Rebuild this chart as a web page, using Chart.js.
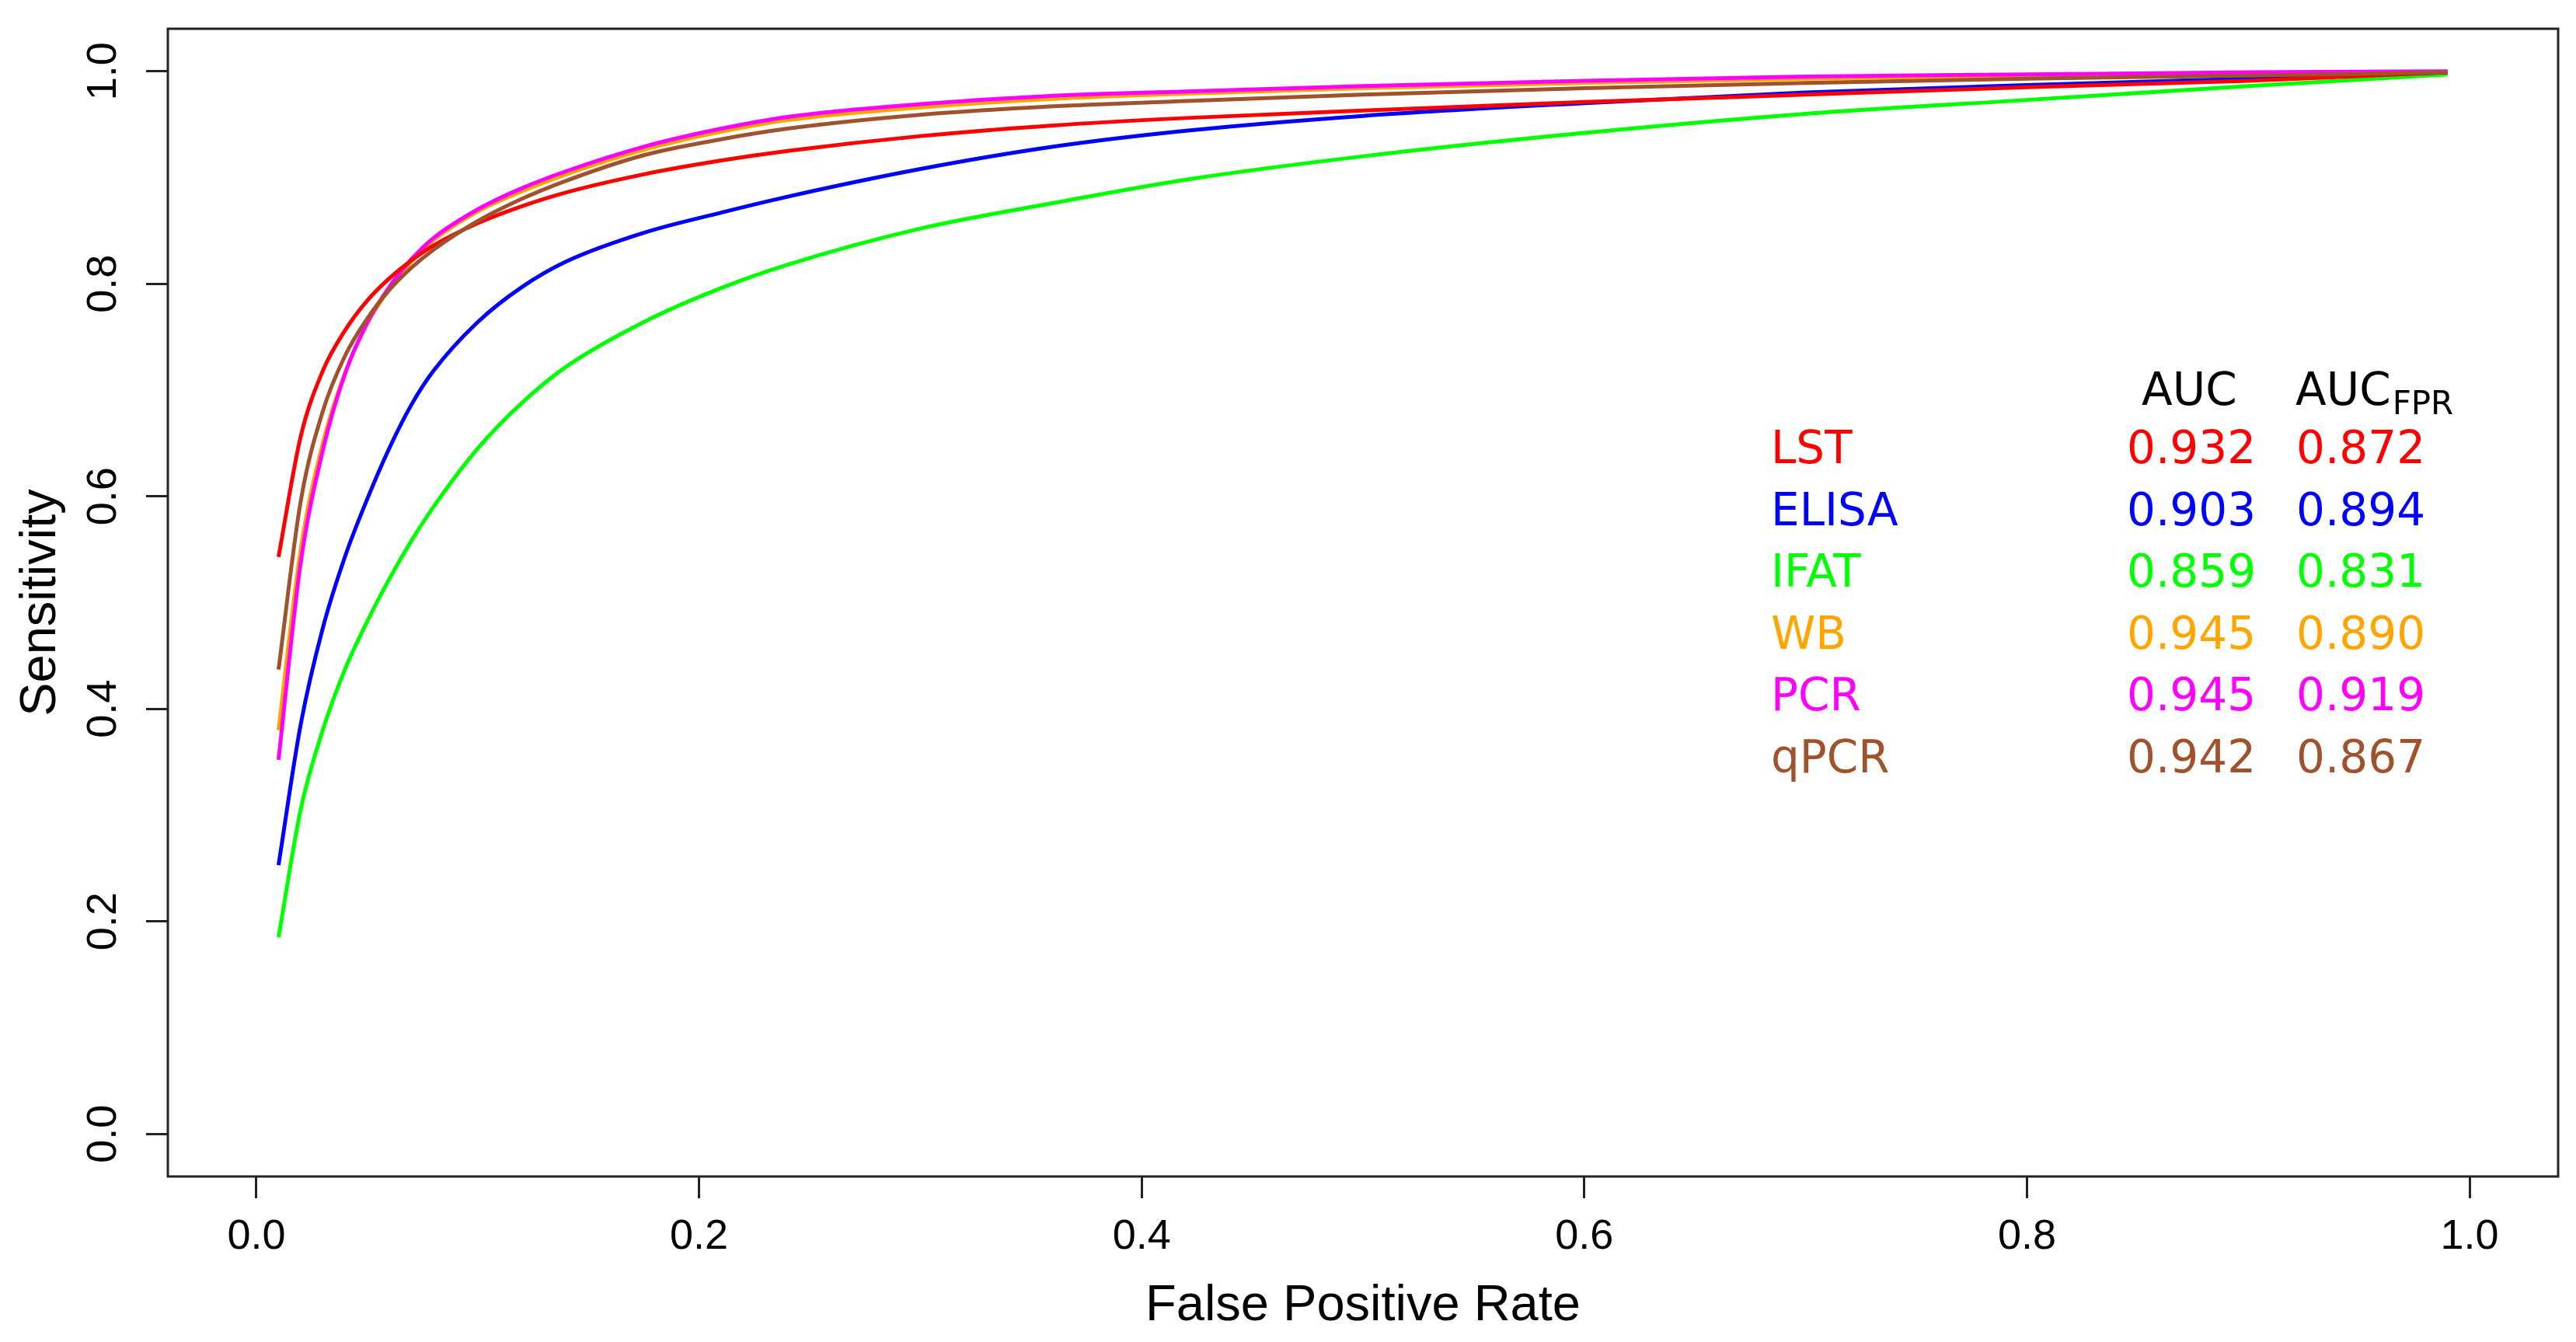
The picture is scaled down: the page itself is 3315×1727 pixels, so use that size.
<!DOCTYPE html>
<html>
<head>
<meta charset="utf-8">
<script src="https://cdn.jsdelivr.net/npm/chart.js@4.4.1/dist/chart.umd.min.js"></script>
<style>
  body { margin: 0; background: #fff; }
  #wrap { width: 3315px; height: 1727px; }
</style>
</head>
<body>
<div id="wrap"><canvas id="roc" width="3315" height="1727"></canvas></div>
<script>
// false positive rate (x) shared by every curve
var fpr   = [0.01, 0.02, 0.03, 0.04, 0.05, 0.06, 0.07, 0.08, 0.10, 0.12, 0.14, 0.175, 0.21, 0.24, 0.30, 0.36, 0.42, 0.50, 0.60, 0.70, 0.80, 0.90, 0.99];
// sensitivity
var lst   = [0.543, 0.656, 0.718, 0.756, 0.784, 0.805, 0.822, 0.836, 0.857, 0.873, 0.886, 0.903, 0.916, 0.925, 0.939, 0.949, 0.956, 0.963, 0.971, 0.978, 0.985, 0.991, 0.999];
var elisa = [0.253, 0.385, 0.476, 0.543, 0.597, 0.645, 0.686, 0.718, 0.764, 0.797, 0.821, 0.848, 0.867, 0.882, 0.908, 0.929, 0.944, 0.958, 0.970, 0.980, 0.987, 0.993, 0.999];
var ifat  = [0.185, 0.305, 0.380, 0.437, 0.482, 0.522, 0.558, 0.590, 0.645, 0.688, 0.722, 0.764, 0.796, 0.818, 0.852, 0.876, 0.898, 0.920, 0.942, 0.960, 0.973, 0.986, 0.997];
var wb    = [0.380, 0.550, 0.650, 0.716, 0.762, 0.795, 0.821, 0.841, 0.868, 0.887, 0.903, 0.926, 0.943, 0.954, 0.966, 0.974, 0.979, 0.984, 0.989, 0.993, 0.996, 0.998, 0.9995];
var pcr   = [0.352, 0.537, 0.643, 0.715, 0.763, 0.797, 0.823, 0.843, 0.870, 0.890, 0.906, 0.929, 0.946, 0.957, 0.969, 0.977, 0.981, 0.986, 0.991, 0.995, 0.997, 0.999, 1.000];
var qpcr  = [0.437, 0.595, 0.680, 0.732, 0.767, 0.794, 0.815, 0.832, 0.859, 0.880, 0.897, 0.921, 0.936, 0.946, 0.959, 0.967, 0.972, 0.978, 0.984, 0.989, 0.993, 0.996, 0.999];

var tests  = ['LST', 'ELISA', 'IFAT', 'WB', 'PCR', 'qPCR'];
var auc    = ['0.932', '0.903', '0.859', '0.945', '0.945', '0.942'];
var aucFpr = ['0.872', '0.894', '0.831', '0.890', '0.919', '0.867'];
var tickValues = [0, 0.2, 0.4, 0.6, 0.8, 1.0];

var colours = ['#ff0000', '#0000ff', '#00ff00', '#ffa500', '#ff00ff', '#a0522d'];
var drawOrder = [2, 5, 6, 4, 3, 1]; // lower = drawn on top
var series = [lst, elisa, ifat, wb, pcr, qpcr];

var tickFont = "'Liberation Sans Narrow', 'Liberation Sans', Arial, sans-serif";
var labFont = "'Liberation Sans', Arial, sans-serif";
var tableFont = "'DejaVu Sans', Verdana, sans-serif";

var datasets = series.map(function (s, i) {
    return {
        label: tests[i],
        data: fpr.map(function (x, j) { return { x: x, y: s[j] }; }),
        borderColor: colours[i],
        borderWidth: 5,
        pointRadius: 0,
        fill: false,
        cubicInterpolationMode: 'monotone',
        order: drawOrder[i]
    };
});

function fixTicks(scale) {
    scale.ticks = tickValues.map(function (v) { return { value: v }; });
}

var extras = {
    id: 'extras',
    afterDraw: function (chart) {
        var ctx = chart.ctx, a = chart.chartArea, ys = chart.scales.y;
        ctx.save();

        // box round the plot
        ctx.strokeStyle = '#222';
        ctx.lineWidth = 3;
        ctx.strokeRect(a.left, a.top, a.right - a.left, a.bottom - a.top);

        // y tick labels turned like R does
        ctx.font = '54px ' + tickFont;
        ctx.fillStyle = '#000';
        ctx.textAlign = 'center';
        ctx.textBaseline = 'middle';
        tickValues.forEach(function (v) {
            ctx.save();
            ctx.translate(134, ys.getPixelForValue(v));
            ctx.rotate(-Math.PI / 2);
            ctx.fillText(v.toFixed(1), 0, 0);
            ctx.restore();
        });

        // AUC table
        ctx.textAlign = 'left';
        ctx.textBaseline = 'alphabetic';
        ctx.font = '58px ' + tableFont;
        ctx.fillStyle = '#000';
        ctx.fillText('AUC', 2756, 521);
        ctx.fillText('AUC', 2954, 521);
        var w = ctx.measureText('AUC').width;
        ctx.font = '42px ' + tableFont;
        ctx.fillText('FPR', 2954 + w + 2, 533);

        ctx.font = '58px ' + tableFont;
        tests.forEach(function (t, i) {
            var y = 596 + i * 79.6;
            ctx.fillStyle = colours[i];
            ctx.fillText(t, 2279, y);
            ctx.fillText(auc[i], 2737, y);
            ctx.fillText(aucFpr[i], 2955, y);
        });
        ctx.restore();
    }
};

new Chart(document.getElementById('roc'), {
    type: 'line',
    data: { datasets: datasets },
    options: {
        responsive: false,
        animation: false,
        devicePixelRatio: 1,
        layout: { padding: { left: 0, right: 23, top: 37, bottom: 0 } },
        plugins: { legend: { display: false }, tooltip: { enabled: false } },
        scales: {
            x: {
                type: 'linear',
                min: -0.04,
                max: 1.04,
                afterBuildTicks: fixTicks,
                afterFit: function (s) { s.height = 213; },
                grid: { drawOnChartArea: false, tickLength: 28, color: '#222', lineWidth: 3 },
                border: { display: false },
                ticks: {
                    padding: 18,
                    color: '#000',
                    font: { family: tickFont, size: 54 },
                    maxRotation: 0,
                    callback: function (v) { return v.toFixed(1); }
                },
                title: {
                    display: true,
                    text: 'False Positive Rate',
                    color: '#000',
                    font: { family: labFont, size: 65 },
                    padding: { top: 0, bottom: 7 }
                }
            },
            y: {
                type: 'linear',
                min: -0.04,
                max: 1.04,
                afterBuildTicks: fixTicks,
                afterFit: function (s) { s.width = 216; },
                grid: { drawOnChartArea: false, tickLength: 28, color: '#222', lineWidth: 3 },
                border: { display: false },
                ticks: {
                    color: 'rgba(0,0,0,0)',
                    font: { family: tickFont, size: 54 },
                    callback: function (v) { return v.toFixed(1); }
                },
                title: {
                    display: true,
                    text: 'Sensitivity',
                    color: '#000',
                    font: { family: labFont, size: 65 },
                    padding: { top: 14, bottom: 0 }
                }
            }
        }
    },
    plugins: [extras]
});
</script>
</body>
</html>
